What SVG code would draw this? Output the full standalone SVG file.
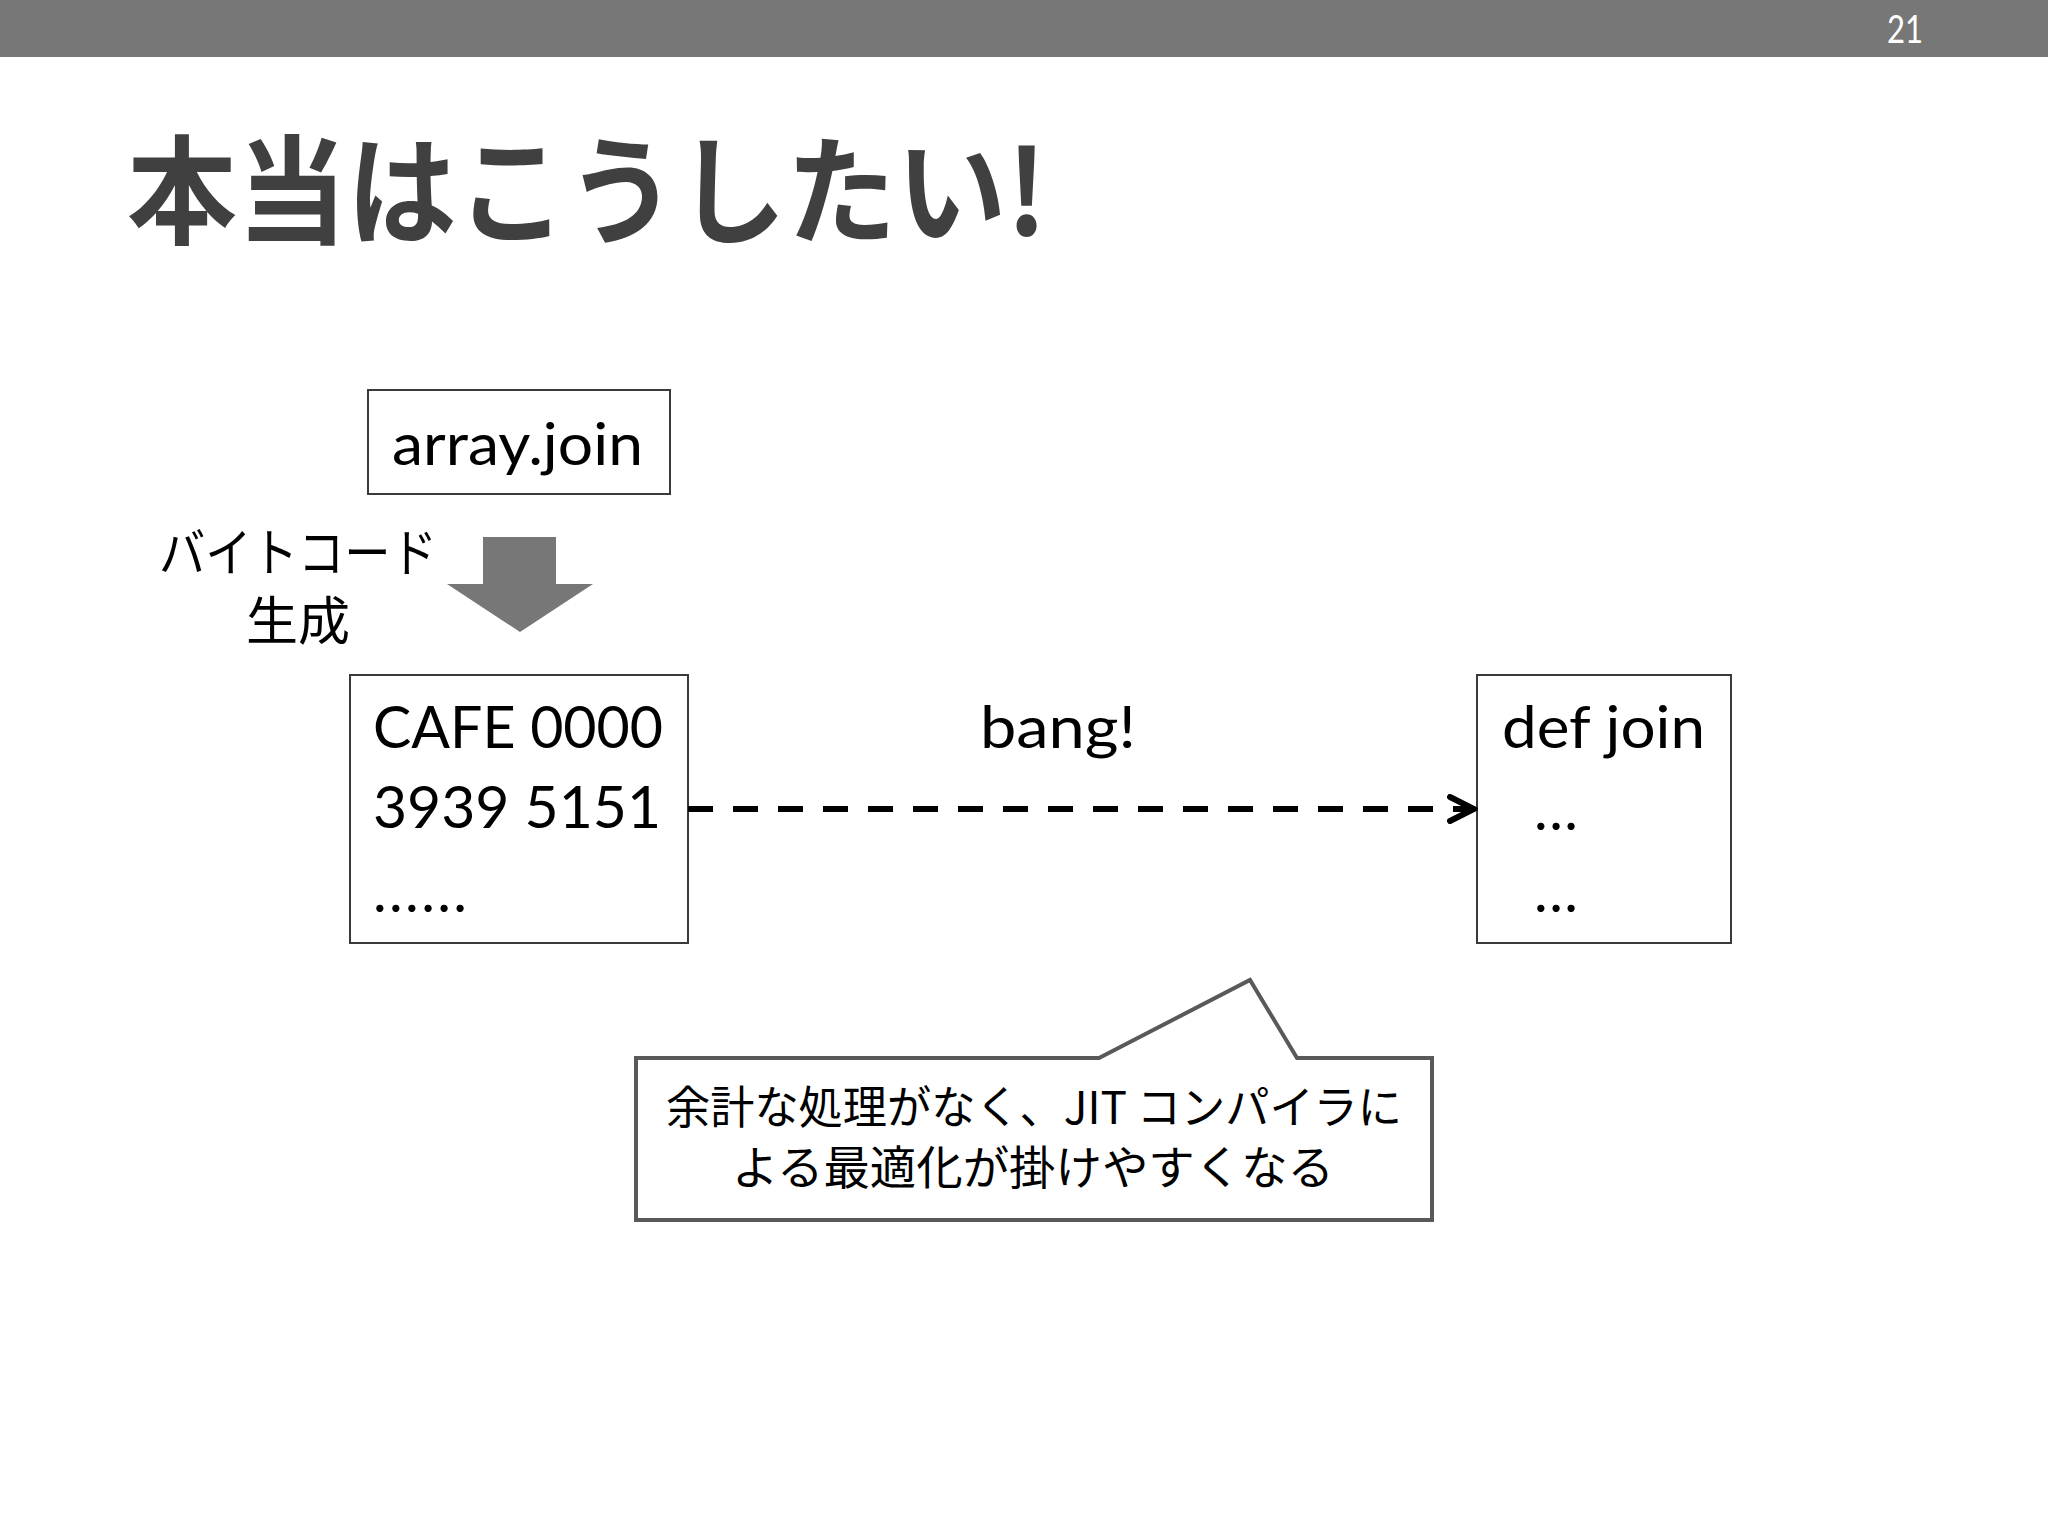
<svg xmlns="http://www.w3.org/2000/svg" width="2048" height="1536" viewBox="0 0 2048 1536">
<style>
.lat{font-family:Lato,"Liberation Sans","Noto Sans CJK JP",sans-serif;fill:#000}
.jp{font-family:"Noto Sans CJK JP","Noto Sans",sans-serif;fill:#000}
.box{fill:#fff;stroke:#3a3a3a;stroke-width:2}
.code{font-size:58px}
</style>
<defs>
<marker id="chev" viewBox="0 0 32 30" refX="28" refY="15" markerWidth="32" markerHeight="30" markerUnits="userSpaceOnUse" orient="auto">
<path d="M4,3 L28,15 L4,27" fill="none" stroke="#000" stroke-width="6" stroke-linecap="round" stroke-linejoin="miter"/>
</marker>
</defs>
<rect width="2048" height="1536" fill="#fff"/>
<g id="header">
<rect x="0" y="0" width="2048" height="57" fill="#777"/>
<text x="1887" y="43" font-family="Lato,'Liberation Sans',sans-serif" font-size="38" fill="#fff" textLength="36" lengthAdjust="spacingAndGlyphs">21</text>
</g>
<g id="title">
<text x="127" y="235" font-family="'Noto Sans CJK JP',sans-serif" font-weight="bold" font-size="118" fill="#404040" textLength="920" lengthAdjust="spacingAndGlyphs">本当はこうしたい!</text>
</g>
<g id="source">
<rect class="box" x="368" y="390" width="302" height="104"/>
<text class="lat code" x="392" y="465" textLength="251" lengthAdjust="spacingAndGlyphs">array.join</text>
</g>
<g id="compile-arrow">
<polygon points="483,537 556,537 556,584 593,584 520,632 447,584 483,584" fill="#777"/>
<text class="jp" x="159" y="572" font-size="52" textLength="278" lengthAdjust="spacingAndGlyphs">バイトコード</text>
<text class="jp" x="298" y="640" font-size="52" text-anchor="middle">生成</text>
</g>
<g id="bytecode">
<rect class="box" x="350" y="675" width="338" height="268"/>
<text class="lat code" x="373" y="748" textLength="290" lengthAdjust="spacingAndGlyphs">CAFE 0000</text>
<text class="lat code" x="373" y="828" textLength="288" lengthAdjust="spacingAndGlyphs">3939 5151</text>
<text class="lat code" x="373" y="912" textLength="94" lengthAdjust="spacing">......</text>
</g>
<g id="ruby">
<rect class="box" x="1477" y="675" width="254" height="268"/>
<text class="lat code" x="1502" y="748" textLength="203" lengthAdjust="spacingAndGlyphs">def join</text>
<text class="lat code" x="1534" y="830" textLength="44" lengthAdjust="spacing">...</text>
<text class="lat code" x="1534" y="912" textLength="44" lengthAdjust="spacing">...</text>
</g>
<g id="connectors">
<line x1="688" y1="809" x2="1474" y2="809" stroke="#000" stroke-width="6" stroke-dasharray="25 20" marker-end="url(#chev)"/>
<text class="lat code" x="980" y="748" textLength="156" lengthAdjust="spacingAndGlyphs">bang!</text>
</g>
<g id="callout">
<path d="M636,1058 L1099,1058 L1250,980 L1297,1058 L1432,1058 L1432,1220 L636,1220 Z" fill="#fff" stroke="#595959" stroke-width="4"/>
<text class="jp" x="1034" y="1124" font-size="45" text-anchor="middle" textLength="736" lengthAdjust="spacingAndGlyphs">余計な処理がなく、JIT コンパイラに</text>
<text class="jp" x="1033" y="1184" font-size="46" text-anchor="middle" textLength="602" lengthAdjust="spacingAndGlyphs">よる最適化が掛けやすくなる</text>
</g>
</svg>
